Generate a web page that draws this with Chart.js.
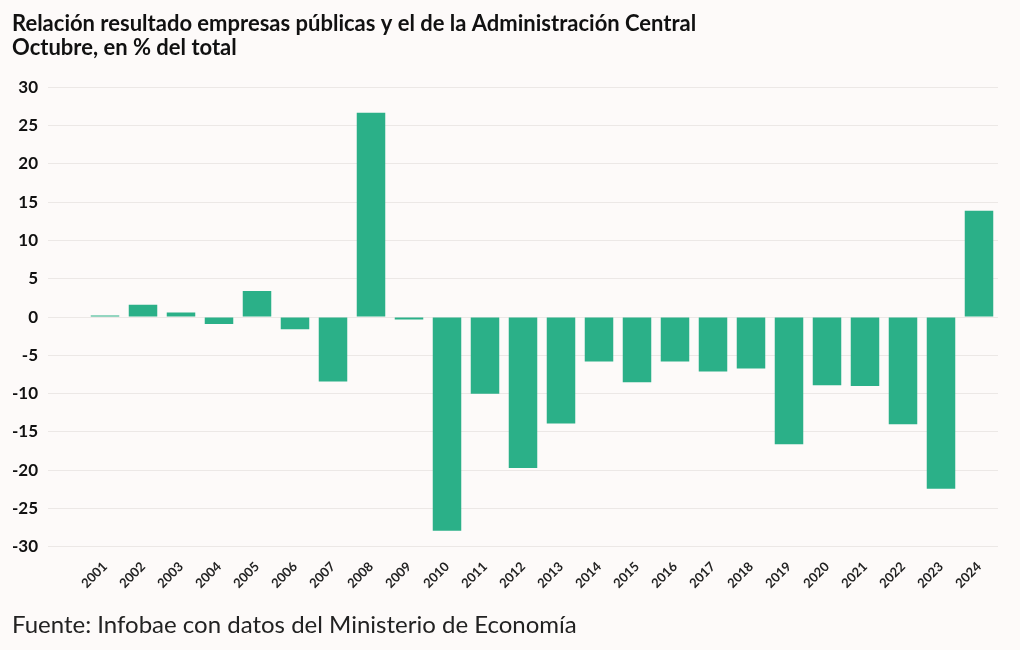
<!DOCTYPE html>
<html>
<head>
<meta charset="utf-8">
<script src="https://cdn.jsdelivr.net/npm/chart.js@4"></script>
<style>
html,body{margin:0;padding:0;background:#fdfaf9;}
#wrap{position:relative;width:1020px;height:650px;}
canvas{display:block;}
</style>
</head>
<body>
<div id="wrap"><canvas id="c" width="1020" height="650"></canvas></div>
<script>
const categories = ['', '2001','2002','2003','2004','2005','2006','2007','2008','2009','2010','2011','2012','2013','2014','2015','2016','2017','2018','2019','2020','2021','2022','2023','2024'];
const values = [null, 0.2, 1.6, 0.6, -0.9, 3.4, -1.6, -8.4, 26.7, -0.3, -27.9, -10.0, -19.7, -13.9, -5.8, -8.5, -5.8, -7.1, -6.7, -16.6, -8.9, -9.0, -14.0, -22.4, 13.9];
const yTicks = [30, 25, 20, 15, 10, 5, 0, -5, -10, -15, -20, -25, -30];
const titleLines = ['Relación resultado empresas públicas y el de la Administración Central', 'Octubre, en % del total'];
const sourceText = 'Fuente: Infobae con datos del Ministerio de Economía';

const FONT = 'Lato, "Noto Sans", sans-serif';
Chart.defaults.font.family = FONT;

new Chart(document.getElementById('c'), {
  type: 'bar',
  data: {
    labels: categories,
    datasets: [{
      data: values,
      backgroundColor: '#2bb088',
      borderWidth: 0,
      barPercentage: 0.75,
      categoryPercentage: 1.0
    }]
  },
  options: {
    responsive: false,
    animation: false,
    layout: { padding: { left: 12, right: 22, top: 12, bottom: 10 } },
    plugins: {
      legend: { display: false },
      tooltip: { enabled: false },
      title: {
        display: true,
        text: titleLines,
        align: 'start',
        color: '#111',
        font: { family: FONT, size: 22, weight: 'bold', lineHeight: 1.1 },
        padding: { top: 0, bottom: 27 }
      },
      subtitle: {
        display: true,
        position: 'bottom',
        text: sourceText,
        align: 'start',
        color: '#222',
        font: { family: FONT, size: 24, weight: 'normal' },
        padding: { top: 16, bottom: 0 }
      }
    },
    scales: {
      x: {
        grid: { display: false },
        border: { display: false },
        ticks: {
          color: '#222',
          font: { family: FONT, size: 13, weight: 'bold' },
          maxRotation: 45, minRotation: 45,
          autoSkip: false,
          padding: 4
        }
      },
      y: {
        min: -30, max: 30,
        afterBuildTicks: (axis) => { axis.ticks = yTicks.map(v => ({ value: v })); },
        afterFit: (axis) => { axis.width = 36; },
        grid: { color: '#ece8e6', lineWidth: 1, drawTicks: false },
        border: { display: false },
        ticks: {
          color: '#111',
          font: { family: FONT, size: 17, weight: 'bold' },
          padding: 10
        }
      }
    }
  }
});
</script>
</body>
</html>
